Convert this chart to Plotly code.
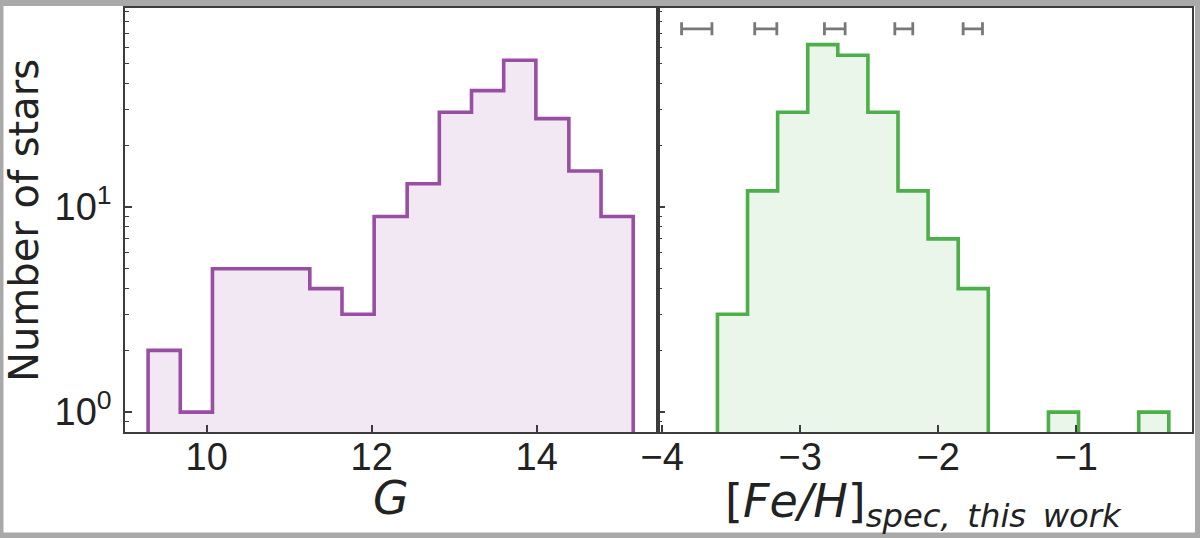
import plotly.graph_objects as go

# ---------------- data ----------------
g_edges = [9.29, 9.68, 10.07, 10.47, 10.86, 11.25, 11.64, 12.03, 12.43,
           12.82, 13.21, 13.60, 13.99, 14.39, 14.78, 15.17]
g_counts = [2, 1, 5, 5, 5, 4, 3, 9, 13, 29, 37, 52, 27, 15, 9]

feh_edges = [-3.600, -3.382, -3.164, -2.946, -2.728, -2.510, -2.292, -2.074,
             -1.856, -1.638, -1.420, -1.202, -0.984, -0.766, -0.548, -0.330]
feh_counts = [3, 12, 29, 62, 55, 29, 12, 7, 4, 0, 0, 1, 0, 0, 1]

err_x = [-3.75, -3.25, -2.75, -2.25, -1.75]
err_dx = [0.11, 0.08, 0.075, 0.065, 0.07]
err_y = [74, 74, 74, 74, 74]

y_major = [1, 10]
y_major_text = ["10<sup>0</sup>", "10<sup>1</sup>"]
y_minor = [0.8, 0.9, 2, 3, 4, 5, 6, 7, 8, 9, 20, 30, 40, 50, 60, 70, 80, 90]
g_ticks = [10, 12, 14]
feh_ticks = [-4, -3, -2, -1]
feh_tick_text = ["\u22124", "\u22123", "\u22122", "\u22121"]

PURPLE = "#984ea3"
GREEN = "#4daf4a"
TXT = "#222222"
AX = "#3c3c3c"
FLOOR = 0.3
YRANGE = [-0.097, 1.971]


def step_path(edges, counts):
    xs = [edges[0]]
    ys = [FLOOR]
    for i, c in enumerate(counts):
        v = c if c > 0 else FLOOR
        xs += [edges[i], edges[i + 1]]
        ys += [v, v]
    xs.append(edges[-1])
    ys.append(FLOOR)
    return xs, ys


fig = go.Figure()

gx, gy = step_path(g_edges, g_counts)
fig.add_trace(go.Scatter(x=gx, y=gy, mode="lines", fill="toself",
                         fillcolor="rgba(152,78,163,0.13)",
                         line=dict(color=PURPLE, width=3.6),
                         xaxis="x", yaxis="y", showlegend=False, hoverinfo="skip"))

fx, fy = step_path(feh_edges, feh_counts)
fig.add_trace(go.Scatter(x=fx, y=fy, mode="lines", fill="toself",
                         fillcolor="rgba(77,175,74,0.11)",
                         line=dict(color=GREEN, width=3.6),
                         xaxis="x2", yaxis="y2", showlegend=False, hoverinfo="skip"))

fig.add_trace(go.Scatter(x=err_x, y=err_y, mode="markers",
                         marker=dict(size=1, color="rgba(0,0,0,0)"),
                         error_x=dict(type="data", array=err_dx, color="#787878",
                                      thickness=2.8, width=6.5),
                         xaxis="x2", yaxis="y2", showlegend=False, hoverinfo="skip"))

# empty traces so the overlay (major-tick) axes are created
fig.add_trace(go.Scatter(x=[None], y=[None], xaxis="x", yaxis="y3",
                         showlegend=False, hoverinfo="skip"))
fig.add_trace(go.Scatter(x=[None], y=[None], xaxis="x2", yaxis="y4",
                         showlegend=False, hoverinfo="skip"))

split = 0.4995
tickfont = dict(family="Liberation Sans, Arial, sans-serif", size=38, color=TXT)

all_y_vals = y_minor + y_major
all_y_text = [""] * len(y_minor) + y_major_text

common_x = dict(showline=True, mirror=True, linecolor=AX, linewidth=1.5,
                ticks="inside", ticklen=7, tickwidth=1.5, tickcolor=AX,
                showgrid=False, zeroline=False, tickfont=tickfont,
                ticklabelstandoff=-9)
common_y = dict(type="log", range=YRANGE, showline=True, mirror=True,
                linecolor=AX, linewidth=1.5, ticks="inside", ticklen=4,
                tickwidth=1.2, tickcolor=AX, showgrid=False, zeroline=False,
                tickvals=all_y_vals, ticktext=all_y_text, tickfont=tickfont)
major_y = dict(type="log", range=YRANGE, showline=False, ticks="inside",
               ticklen=7, tickwidth=1.5, tickcolor=AX, showgrid=False,
               zeroline=False, tickvals=y_major, showticklabels=False)

fig.update_layout(
    width=1200, height=538,
    margin=dict(l=125, r=8, t=6, b=106),
    paper_bgcolor="#a9a9a9", plot_bgcolor="white",
    xaxis=dict(domain=[0, split], range=[9.01, 15.47], tickvals=g_ticks,
               anchor="y", **common_x),
    xaxis2=dict(domain=[split, 1], range=[-4.031, -0.162], tickvals=feh_ticks,
                ticktext=feh_tick_text, anchor="y2", **common_x),
    yaxis=dict(domain=[0, 1], anchor="x", ticklabelstandoff=4, **common_y),
    yaxis2=dict(domain=[0, 1], anchor="x2", matches="y", showticklabels=False,
                **common_y),
    yaxis3=dict(overlaying="y", anchor="x", side="left", **major_y),
    yaxis4=dict(overlaying="y2", anchor="x2", side="left", **major_y),
    shapes=[dict(type="rect", xref="paper", yref="paper",
                 x0=-0.1139, x1=1.0028, y0=-0.2371, y1=1.0047,
                 fillcolor="white", line=dict(width=0), layer="below")],
    annotations=[
        dict(text="Number of stars", xref="paper", yref="paper",
             x=-0.0947, y=0.5, xanchor="center", yanchor="middle",
             textangle=-90, showarrow=False,
             font=dict(family="DejaVu Sans, sans-serif", size=40, color=TXT)),
        dict(text="<i>G</i>", xref="paper", yref="paper",
             x=0.2493, y=-0.156, xanchor="center", yanchor="middle",
             showarrow=False,
             font=dict(family="DejaVu Sans, sans-serif", size=46, color=TXT)),
        dict(text="[<i>Fe/H</i>]<sub><i>spec,&#8201; this&#8201; work</i></sub>",
             xref="paper", yref="paper",
             x=0.7488, y=-0.172, xanchor="center", yanchor="middle",
             showarrow=False,
             font=dict(family="DejaVu Sans, sans-serif", size=46, color=TXT)),
    ],
)

fig.write_html("out.html", config={"displayModeBar": False},
               post_script="document.body.style.margin='0';document.body.style.padding='0';")
